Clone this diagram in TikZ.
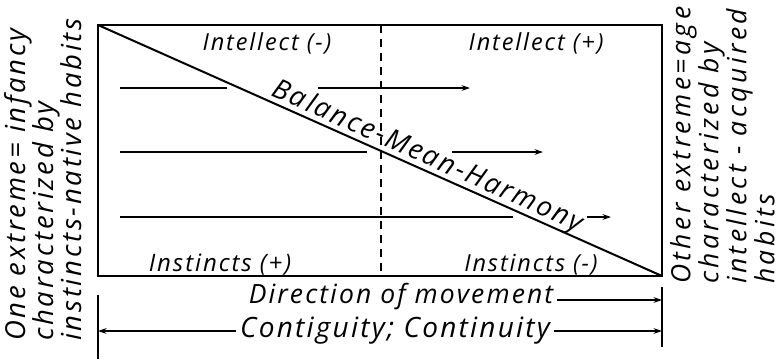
\documentclass[tikz,border=0pt]{standalone}
\usepackage{fontspec}
\setmainfont{Open Sans}[LetterSpace=8]
\usetikzlibrary{arrows.meta,positioning,calc}

\begin{document}
\begin{tikzpicture}[x=1pt, y=1pt,
  lbl/.style={font=\itshape\fontsize{#1}{#1}\selectfont, inner sep=0pt},
  lbl/.default=24,
  side/.style 2 args={font=\itshape\fontsize{#1}{28}\selectfont\addfontfeatures{LetterSpace=#2},
    inner sep=0pt, rotate=90, align=left, anchor=north west},
  frame/.style={line width=2pt},
  track/.style={line width=1.2pt},
  arrow/.style={track, -{Stealth[length=3mm, width=2mm]}},
]
  \useasboundingbox (0,0) rectangle (783,-359);

  % the box and its diagonal
  \coordinate (tl) at (98,-25);
  \coordinate (br) at (662,-276);
  \coordinate (midtop) at (381,-25);
  \coordinate (midbot) at (381,-276);
  \draw[frame] (tl) rectangle (br);
  \draw[frame] (tl) -- node[lbl=27.5, pos=0.575, sloped, anchor=base, yshift=6pt] (bmh) {Balance-Mean-Harmony} (br);
  \draw[frame, dash pattern=on 8pt off 6pt] (midtop) -- (midbot);

  \node[lbl=23.5] (intm) at (267,-43) {Intellect (-)};
  \node[lbl=23.5] (intp) at (536,-43) {Intellect (+)};
  \node[lbl=24] (insp) at (220,-265) {Instincts (+)};
  \node[lbl=23.5] (insm) at (531,-265) {Instincts (-)};

  % movement lines
  \coordinate (a1) at (120,-88);  \coordinate (a2) at (227,-88);
  \coordinate (a3) at (318,-88);  \coordinate (a4) at (470,-88);
  \coordinate (b1) at (120,-152); \coordinate (b2) at (367,-152);
  \coordinate (b3) at (452,-152); \coordinate (b4) at (543,-152);
  \coordinate (c1) at (120,-217); \coordinate (c2) at (513,-217);
  \coordinate (c3) at (587,-217); \coordinate (c4) at (611,-217);
  \draw[track] (a1) -- (a2);
  \draw[arrow] (a3) -- (a4);
  \draw[track] (b1) -- (b2);
  \draw[arrow] (b3) -- (b4);
  \draw[track] (c1) -- (c2);
  \draw[arrow] (c3) -- (c4);

  % the two extremes
  \node[side={27.5}{10}] (young) at (4,-341) {One extreme= infancy\\characterized by\\instincts-native habits};
  \node[side={26.5}{13}] (old) at (670,-284) {Other extreme=age\\characterized by\\intellect - acquired\\habits};

  % scale below
  \coordinate (lt1) at (98,-295);  \coordinate (lt2) at (98,-359);
  \coordinate (rt1) at (662,-287); \coordinate (rt2) at (662,-347);
  \coordinate (dirend) at (662,-300);
  \coordinate (conl) at (98,-331);
  \coordinate (conr) at (662,-331);
  \draw[frame] (lt1) -- (lt2);
  \draw[frame] (rt1) -- (rt2);
  \node[lbl=26.5] (dir) at (401,-297) {Direction of movement};
  \node[lbl=28] (cont) at (395,-331) {Contiguity; Continuity};
  \draw[arrow] ($(dir.east)+(4,-3)$) -- (dirend);
  \draw[arrow] ($(cont.west)+(-4,0)$) -- (conl);
  \draw[arrow] ($(cont.east)+(4,0)$) -- (conr);
\end{tikzpicture}
\end{document}
